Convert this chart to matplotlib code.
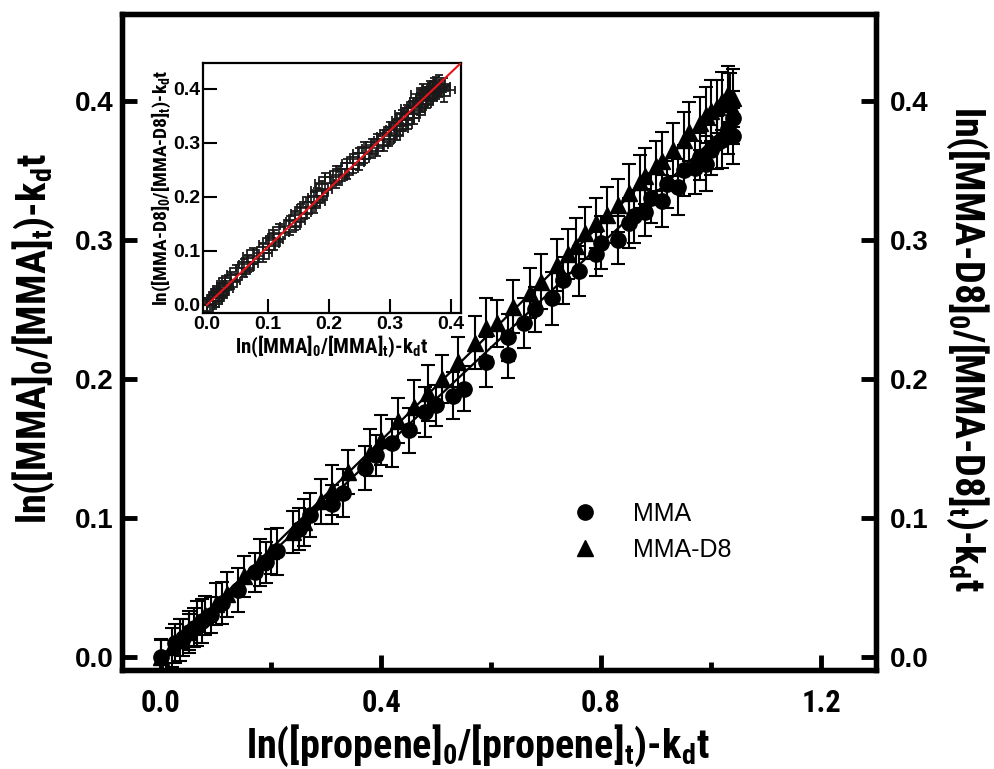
import matplotlib
matplotlib.use("Agg")
import matplotlib.pyplot as plt
from matplotlib import font_manager
from matplotlib.ticker import MultipleLocator

# ---------------- data ----------------
# MMA (circles)
x_mma = [0.00, 0.025, 0.04, 0.05, 0.06, 0.075, 0.09, 0.11, 0.14, 0.17,
         0.19, 0.21, 0.25, 0.27, 0.31, 0.33, 0.37, 0.39, 0.42, 0.45,
         0.48, 0.50, 0.53, 0.55, 0.59, 0.63, 0.63, 0.66, 0.68, 0.71,
         0.73, 0.76, 0.79, 0.80, 0.83, 0.85, 0.86, 0.88, 0.89, 0.91,
         0.92, 0.94, 0.95, 0.97, 0.98, 0.99, 1.00, 1.01, 1.02, 1.03,
         1.04, 1.04]
y_mma = [0.000, 0.010, 0.014, 0.018, 0.021, 0.026, 0.030, 0.039, 0.048, 0.061,
         0.068, 0.076, 0.092, 0.102, 0.110, 0.118, 0.136, 0.145, 0.154, 0.163,
         0.176, 0.181, 0.188, 0.193, 0.212, 0.217, 0.230, 0.240, 0.250, 0.258,
         0.271, 0.278, 0.290, 0.298, 0.300, 0.312, 0.317, 0.320, 0.330, 0.328,
         0.340, 0.338, 0.350, 0.352, 0.360, 0.355, 0.365, 0.370, 0.372, 0.380,
         0.388, 0.375]
err_mma = [0.012, 0.014, 0.013, 0.015, 0.014, 0.016, 0.013, 0.015, 0.016, 0.014,
           0.015, 0.017, 0.015, 0.016, 0.014, 0.017, 0.016, 0.015, 0.017, 0.016,
           0.018, 0.015, 0.017, 0.016, 0.018, 0.016, 0.017, 0.018, 0.016, 0.019,
           0.017, 0.018, 0.016, 0.019, 0.017, 0.018, 0.019, 0.017, 0.018, 0.019,
           0.017, 0.020, 0.018, 0.019, 0.017, 0.020, 0.018, 0.019, 0.020, 0.018,
           0.019, 0.020]

# MMA-D8 (triangles)
x_d8 = [0.00, 0.02, 0.035, 0.05, 0.065, 0.08, 0.10, 0.12, 0.15, 0.18,
        0.20, 0.24, 0.26, 0.29, 0.31, 0.34, 0.38, 0.40, 0.43, 0.46,
        0.485, 0.51, 0.54, 0.57, 0.59, 0.61, 0.64, 0.67, 0.69, 0.72,
        0.74, 0.755, 0.77, 0.79, 0.81, 0.83, 0.85, 0.87, 0.88, 0.90,
        0.91, 0.93, 0.95, 0.96, 0.98, 0.99, 1.00, 1.01, 1.02, 1.03,
        1.035, 1.04]
y_d8 = [0.000, 0.007, 0.012, 0.018, 0.024, 0.030, 0.038, 0.045, 0.058, 0.068,
        0.076, 0.090, 0.097, 0.112, 0.120, 0.133, 0.147, 0.156, 0.170, 0.180,
        0.190, 0.200, 0.212, 0.226, 0.237, 0.240, 0.252, 0.262, 0.270, 0.282,
        0.290, 0.296, 0.305, 0.312, 0.318, 0.325, 0.334, 0.342, 0.346, 0.353,
        0.357, 0.365, 0.372, 0.378, 0.384, 0.390, 0.393, 0.396, 0.400, 0.405,
        0.398, 0.402]
err_d8 = [0.013, 0.014, 0.015, 0.013, 0.016, 0.014, 0.015, 0.016, 0.015, 0.017,
          0.016, 0.015, 0.017, 0.016, 0.018, 0.016, 0.017, 0.018, 0.016, 0.019,
          0.020, 0.017, 0.018, 0.019, 0.021, 0.017, 0.019, 0.018, 0.020, 0.019,
          0.018, 0.020, 0.019, 0.018, 0.020, 0.019, 0.021, 0.019, 0.020, 0.018,
          0.021, 0.019, 0.020, 0.021, 0.019, 0.020, 0.022, 0.019, 0.021, 0.020,
          0.022, 0.021]

# linear fits drawn through the data
fit_x = [0.0, 1.04]
fit_mma = [0.0, 0.386]
fit_d8 = [0.0, 0.405]

# inset fit (MMA-D8 vs MMA)
inset_fit_x = [0.0, 0.42]
inset_fit_y = [0.0, 0.452]

# ---------------- fonts ----------------
names = {f.name for f in font_manager.fontManager.ttflist}
narrow = "Liberation Sans"
for cand in ["Liberation Sans Narrow", "DejaVu Sans Condensed", "Roboto Condensed"]:
    if cand in names:
        narrow = cand
        break
plt.rcParams["font.family"] = ["Liberation Sans", "DejaVu Sans"]
plt.rcParams["mathtext.fontset"] = "custom"
plt.rcParams["mathtext.rm"] = narrow + ":bold"
plt.rcParams["mathtext.it"] = narrow + ":bold"
plt.rcParams["mathtext.bf"] = narrow + ":bold"

fig = plt.figure(figsize=(9.95, 7.69), dpi=100)
ax = fig.add_axes([0.1226, 0.1287, 0.7578, 0.8531])

# error bars, markers, fit lines
ax.errorbar(x_mma, y_mma, yerr=err_mma, fmt="none", ecolor="black",
            elinewidth=1.5, capsize=5, capthick=1.5, zorder=2)
ax.errorbar(x_d8, y_d8, yerr=err_d8, fmt="none", ecolor="black",
            elinewidth=1.5, capsize=5, capthick=1.5, zorder=2)
ax.plot(fit_x, fit_mma, "-", color="black", lw=1.6, zorder=3)
ax.plot(fit_x, fit_d8, "-", color="black", lw=1.6, zorder=3)
h1, = ax.plot(x_mma, y_mma, "o", color="black", ms=11, zorder=4, label="MMA")
h2, = ax.plot(x_d8, y_d8, "^", color="black", ms=12, zorder=4, label="MMA-D8")

ax.set_xlim(-0.071, 1.30)
ax.set_ylim(-0.0094, 0.4626)
ax.set_xticks([0.0, 0.4, 0.8, 1.2])
ax.set_xticklabels(["0.0", "0.4", "0.8", "1.2"], fontfamily=narrow,
                   fontweight="bold", fontsize=22)
ax.xaxis.set_minor_locator(MultipleLocator(0.2))
ax.set_yticks([0.0, 0.1, 0.2, 0.3, 0.4])
ax.set_yticklabels(["0.0", "0.1", "0.2", "0.3", "0.4"], fontweight="bold", fontsize=20)
ax.tick_params(axis="both", which="major", direction="in", length=11, width=3.5)
ax.tick_params(axis="both", which="minor", direction="in", length=6, width=3.5)
ax.tick_params(axis="x", pad=13)
ax.tick_params(axis="y", pad=6)
for s in ax.spines.values():
    s.set_linewidth(3.8)

ax2 = ax.twinx()
ax2.set_ylim(ax.get_ylim())
ax2.set_yticks([0.0, 0.1, 0.2, 0.3, 0.4])
ax2.set_yticklabels(["0.0", "0.1", "0.2", "0.3", "0.4"], fontweight="bold", fontsize=20)
ax2.tick_params(axis="y", direction="in", length=11, width=3.5, pad=10)
for s in ax2.spines.values():
    s.set_linewidth(3.8)

ax.set_xlabel(r"$\mathrm{ln([propene]_0/[propene]_t)\text{-}k_dt}$", fontsize=29)
ax.xaxis.set_label_coords(0.472, -0.080)
ax.set_ylabel(r"$\mathrm{ln([MMA]_0/[MMA]_t)\text{-}k_dt}$", fontsize=29)
ax.yaxis.set_label_coords(-0.086, 0.505)
ax.text(1.121, 0.49, r"$\mathrm{ln([MMA\text{-}D8]_0/[MMA\text{-}D8]_t)\text{-}k_dt}$",
        transform=ax.transAxes, rotation=-90, fontsize=29,
        ha="center", va="center")

ax.legend(handles=[h1, h2], loc="upper left", bbox_to_anchor=(0.563, 0.364),
          bbox_transform=fig.transFigure, frameon=False, borderpad=0,
          handlelength=1.0, handletextpad=1.4, labelspacing=0.5,
          prop={"family": "Liberation Sans", "size": 18})

# ---------------- inset ----------------
ins = fig.add_axes([0.204, 0.593, 0.259, 0.325])
ins.errorbar(y_mma, y_d8, xerr=err_mma, yerr=err_d8, fmt="s", mfc="none",
             mec="#1a1a1a", mew=1.3, ms=8, ecolor="#1a1a1a", elinewidth=1.2,
             capsize=3, capthick=1.2, zorder=2)
ins.plot(inset_fit_x, inset_fit_y, "-", color="#e8141b", lw=1.5, zorder=3)
ins.set_xlim(-0.0066, 0.416)
ins.set_ylim(-0.015, 0.448)
ins.set_xticks([0.0, 0.1, 0.2, 0.3, 0.4])
ins.set_yticks([0.0, 0.1, 0.2, 0.3, 0.4])
ins.set_xticklabels(["0.0", "0.1", "0.2", "0.3", "0.4"], fontweight="bold", fontsize=14)
ins.set_yticklabels(["0.0", "0.1", "0.2", "0.3", "0.4"], fontweight="bold", fontsize=14)
ins.tick_params(direction="in", length=10, width=1.5, pad=2)
for s in ins.spines.values():
    s.set_linewidth(1.6)
ins.set_xlabel(r"$\mathrm{ln([MMA]_0/[MMA]_t)\text{-}k_dt}$", fontsize=15, labelpad=1)
ins.set_ylabel(r"$\mathrm{ln([MMA\text{-}D8]_0/[MMA\text{-}D8]_t)\text{-}k_dt}$",
               fontsize=14, labelpad=0)

fig.savefig("out.png", dpi=100)
